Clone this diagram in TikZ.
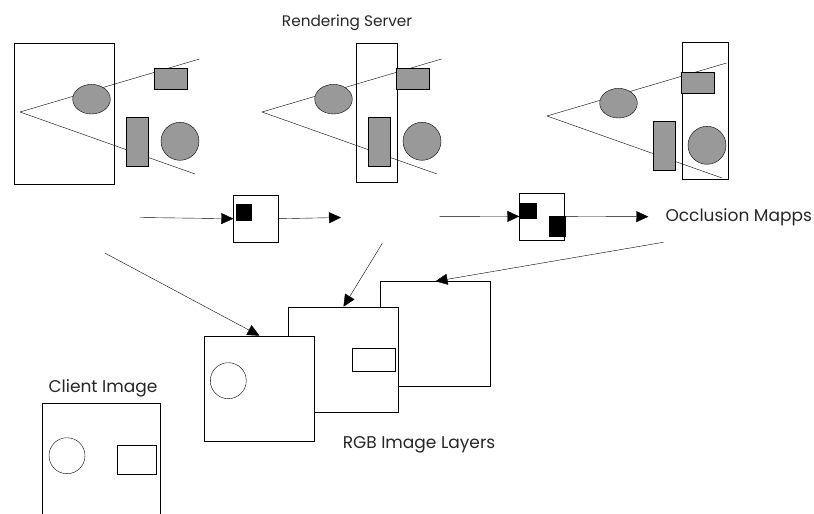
\documentclass[tikz,border=0pt]{standalone}
\usepackage{fontspec}
\setmainfont{Poppins}
\usetikzlibrary{positioning, arrows.meta}
\definecolor{gris}{HTML}{999999}
\tikzset{
	x=1pt, y=-1pt, % un punto por pixel, con y hacia abajo
	line width=1.2pt, % trazo fino
	>={Triangle[length=12pt, width=11pt]}, % puntas de flecha llenas
	objeto/.style={draw, fill=gris}, % objetos de la escena
	marco/.style={draw, inner sep=0pt, anchor=north west}, % marcos de vista
	capa/.style={marco, fill=white, minimum width=110pt, minimum height=105pt}, % capas RGB
	mapa/.style={marco, fill=white, minimum width=45pt, minimum height=47pt}, % mapas de oclusion
	tapa/.style={fill=black, inner sep=0pt, anchor=north west}, % zonas ocultas
	etiqueta/.style={font=\fontsize{17}{20}\selectfont, text=black!85, anchor=base} % textos
}
% escena: camara con objetos
\newcommand{\escena}{
	\draw (20,112) -- (199.5,59);
	\draw (20,112) -- (195,174);
	\draw[objeto] (91.5,99.2) ellipse [x radius=18.8pt, y radius=14.8pt];
	\draw[objeto] (153.7,68.3) rectangle (186.7,89.3);
	\draw[objeto] (126,117) rectangle (147.7,165.7);
	\draw[objeto] (180,141.3) circle [radius=19pt];
}

\begin{document}
\begin{tikzpicture}
	\clip (0,0) rectangle (814,514);
	% vistas del servidor
	\node[marco, minimum width=100pt, minimum height=141pt] (vistaA) at (14.3,42.7) {};
	\node[marco, minimum width=41.6pt, minimum height=139pt] (vistaB) at (355.7,42.7) {};
	\node[marco, minimum width=45.4pt, minimum height=136.7pt] (vistaC) at (682.3,42.3) {};
	\escena
	\begin{scope}[shift={(242,0)}]
		\escena
	\end{scope}
	\begin{scope}[shift={(527,4)}]
		\escena
	\end{scope}
	\node[etiqueta, font=\fontsize{15.3}{18}\selectfont] (servidor) at (347,26) {Rendering Server};

	% mapas de oclusion
	\node[mapa] (occA) at (233.3,195) {};
	\node[tapa, minimum width=16.5pt, minimum height=17.5pt] (tapaA) at (235.5,203.5) {};
	\node[mapa] (occB) at (519.3,192.7) {};
	\node[tapa, minimum width=17.4pt, minimum height=16.7pt] (tapaB) at (519.3,202.3) {};
	\node[tapa, minimum width=16.3pt, minimum height=21.4pt] (tapaC) at (549,215.3) {};
	\node[etiqueta, anchor=base west] (mapas) at (662,221.5) {Occlusion Mapps};
	\coordinate (entA) at (140,217.5);
	\coordinate (salA) at (341,217.5);
	\coordinate (entB) at (439.3,216.7);
	\coordinate (salB) at (648.3,216.7);
	\draw[->] (entA) -- (occA.west);
	\draw[->] (occA.east) -- (salA);
	\draw[->] (entB) -- (occB.west);
	\draw[->] (occB.east) -- (salB);

	% capas RGB
	\node[capa] (capaC) at (380.3,281.3) {};
	\node[capa] (capaB) at (288.3,306.7) {};
	\node[capa] (capaA) at (204.3,335.7) {};
	\draw (228.3,380.7) circle [radius=18pt];
	\draw (352.3,347.7) rectangle (395,371);
	\node[etiqueta] (capas) at (419,448) {RGB Image Layers};
	\coordinate (desdeA) at (105.3,253.3);
	\coordinate (desdeB) at (382.3,243.3);
	\coordinate (desdeC) at (663.3,242.3);
	\draw[->] (desdeA) -- (capaA.north);
	\draw[->] (desdeB) -- (capaB.north);
	\draw[->] (desdeC) -- (capaC.north);

	% imagen del cliente
	\node[marco, minimum width=117.7pt, minimum height=140pt] (cliente) at (42.3,402.7) {};
	\draw (67,455.7) circle [radius=18pt];
	\draw (117.3,444.7) rectangle (156.3,473.7);
	\node[etiqueta] (txtCliente) at (103,392.7) {Client Image};
\end{tikzpicture}
\end{document}
